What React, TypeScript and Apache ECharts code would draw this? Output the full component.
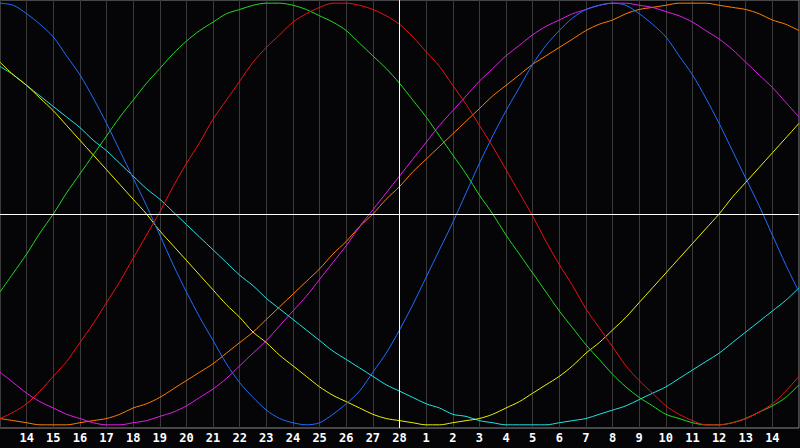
import { useEffect, useRef } from 'react';
import * as echarts from 'echarts';

// day labels under each grid line (index 0 and 30 sit on the edges, unlabeled)
const dayLabels = [
  '', '14', '15', '16', '17', '18', '19', '20', '21', '22', '23', '24', '25', '26', '27', '28',
  '1', '2', '3', '4', '5', '6', '7', '8', '9', '10', '11', '12', '13', '14', '',
];

// values every half day, -1 .. 1 (61 points from day index 0 to 30)
const physical = [
  1.0, 0.99, 0.95, 0.9, 0.84, 0.75, 0.66, 0.55, 0.43, 0.3, 0.17, 0.04, -0.1, -0.24, -0.37, -0.49,
  -0.6, -0.71, -0.8, -0.87, -0.93, -0.97, -0.99, -1.0, -0.99, -0.95, -0.9, -0.84, -0.75, -0.66, -0.55,
  -0.43, -0.3, -0.17, -0.04, 0.1, 0.24, 0.37, 0.49, 0.6, 0.71, 0.8, 0.87, 0.93, 0.97, 0.99,
  1.0, 0.99, 0.95, 0.9, 0.84, 0.75, 0.66, 0.55, 0.43, 0.3, 0.17, 0.04, -0.1, -0.24, -0.37,
];
const emotional = [
  -0.97, -0.94, -0.9, -0.84, -0.77, -0.7, -0.61, -0.52, -0.42, -0.32, -0.21, -0.1, 0.01, 0.13, 0.24, 0.34,
  0.45, 0.54, 0.63, 0.72, 0.79, 0.85, 0.91, 0.95, 0.98, 1.0, 1.0, 0.99, 0.97, 0.94, 0.9,
  0.84, 0.77, 0.7, 0.61, 0.52, 0.42, 0.32, 0.21, 0.1, -0.01, -0.13, -0.24, -0.34, -0.45, -0.54,
  -0.63, -0.72, -0.79, -0.85, -0.91, -0.95, -0.98, -1.0, -1.0, -0.99, -0.97, -0.94, -0.9, -0.84, -0.77,
];
const intellectual = [
  -0.37, -0.28, -0.19, -0.09, 0.0, 0.1, 0.19, 0.28, 0.37, 0.46, 0.54, 0.62, 0.69, 0.76, 0.82, 0.87,
  0.91, 0.95, 0.97, 0.99, 1.0, 1.0, 0.99, 0.97, 0.94, 0.91, 0.87, 0.81, 0.75, 0.69, 0.62,
  0.54, 0.46, 0.37, 0.28, 0.19, 0.09, 0.0, -0.1, -0.19, -0.28, -0.37, -0.46, -0.54, -0.62, -0.69,
  -0.76, -0.82, -0.87, -0.91, -0.95, -0.97, -0.99, -1.0, -1.0, -0.99, -0.97, -0.94, -0.91, -0.87, -0.81,
];
const intuitive = [
  -0.75, -0.8, -0.85, -0.89, -0.92, -0.95, -0.97, -0.99, -1.0, -1.0, -0.99, -0.98, -0.96, -0.94, -0.91, -0.87,
  -0.83, -0.78, -0.72, -0.66, -0.6, -0.53, -0.46, -0.39, -0.31, -0.23, -0.15, -0.06, 0.02, 0.1, 0.18,
  0.26, 0.34, 0.42, 0.49, 0.56, 0.63, 0.69, 0.75, 0.8, 0.85, 0.89, 0.92, 0.95, 0.97, 0.99,
  1.0, 1.0, 0.99, 0.98, 0.96, 0.94, 0.91, 0.87, 0.83, 0.78, 0.72, 0.66, 0.6, 0.53, 0.46,
];
const awareness = [
  -0.97, -0.98, -0.99, -1.0, -1.0, -1.0, -0.99, -0.98, -0.97, -0.95, -0.92, -0.9, -0.87, -0.83, -0.79, -0.75,
  -0.71, -0.66, -0.61, -0.56, -0.5, -0.44, -0.38, -0.32, -0.26, -0.19, -0.13, -0.06, 0.0, 0.07, 0.13,
  0.2, 0.26, 0.32, 0.38, 0.44, 0.5, 0.56, 0.61, 0.66, 0.71, 0.75, 0.79, 0.83, 0.87, 0.9,
  0.92, 0.95, 0.97, 0.98, 0.99, 1.0, 1.0, 1.0, 0.99, 0.98, 0.97, 0.95, 0.92, 0.9, 0.87,
];
const aesthetic = [
  0.72, 0.66, 0.61, 0.55, 0.49, 0.42, 0.35, 0.28, 0.21, 0.14, 0.07, 0.0, -0.08, -0.15, -0.22, -0.29,
  -0.36, -0.43, -0.49, -0.56, -0.61, -0.67, -0.72, -0.77, -0.82, -0.86, -0.89, -0.92, -0.95, -0.97, -0.98,
  -0.99, -1.0, -1.0, -0.99, -0.98, -0.97, -0.95, -0.92, -0.89, -0.85, -0.81, -0.77, -0.72, -0.66, -0.61,
  -0.55, -0.49, -0.42, -0.35, -0.28, -0.21, -0.14, -0.07, 0.0, 0.08, 0.15, 0.22, 0.29, 0.36, 0.43,
];
const spiritual = [
  0.7, 0.66, 0.61, 0.56, 0.51, 0.46, 0.41, 0.35, 0.3, 0.24, 0.18, 0.12, 0.07, 0.01, -0.05, -0.11,
  -0.17, -0.23, -0.29, -0.34, -0.4, -0.45, -0.5, -0.55, -0.6, -0.65, -0.69, -0.73, -0.77, -0.81, -0.84,
  -0.87, -0.9, -0.92, -0.95, -0.96, -0.98, -0.99, -1.0, -1.0, -1.0, -1.0, -0.99, -0.98, -0.97, -0.95,
  -0.93, -0.91, -0.88, -0.85, -0.82, -0.78, -0.74, -0.7, -0.66, -0.61, -0.56, -0.51, -0.46, -0.41, -0.35,
];

const curves = [
  { name: 'Awareness', data: awareness, color: '#ff8000' },
  { name: 'Intuitive', data: intuitive, color: '#e81ce8' },
  { name: 'Spiritual', data: spiritual, color: '#1ee6e6' },
  { name: 'Aesthetic', data: aesthetic, color: '#f0f000' },
  { name: 'Intellectual', data: intellectual, color: '#20dc20' },
  { name: 'Emotional', data: emotional, color: '#f01010' },
  { name: 'Physical', data: physical, color: '#1e6eff' },
];

const TODAY = 15;

export default function App() {
  const chartRef = useRef<HTMLDivElement>(null);

  useEffect(() => {
    if (!chartRef.current) return;
    document.body.style.margin = '0';
    document.body.style.background = '#050508';

    const chart = echarts.init(chartRef.current, null, { renderer: 'svg' });

    const series: any[] = curves.map((c) => ({
      name: c.name,
      type: 'line',
      data: c.data.map((v, i) => [i / 2, v]),
      smooth: 0.3,
      showSymbol: false,
      lineStyle: { width: 1, color: c.color },
      itemStyle: { color: c.color },
    }));

    // 今天 + 零线
    series[0].markLine = {
      silent: true,
      symbol: 'none',
      label: { show: false },
      lineStyle: { color: '#ffffff', width: 1, type: 'solid' },
      data: [{ xAxis: TODAY }, { yAxis: 0 }],
    };

    chart.setOption({
      animation: false,
      backgroundColor: '#050508',
      grid: {
        left: 0,
        right: 1,
        top: 0,
        bottom: 20,
        show: true,
        borderColor: '#8a8a8a',
        borderWidth: 1,
      },
      xAxis: {
        type: 'value',
        min: 0,
        max: 30,
        interval: 1,
        axisLine: { show: true, lineStyle: { color: '#8a8a8a' } },
        axisTick: { show: false },
        splitLine: { show: true, lineStyle: { color: '#3a3a3a', width: 1 } },
        axisLabel: {
          color: '#ffffff',
          fontFamily: 'DejaVu Sans Mono',
          fontWeight: 'bold',
          fontSize: 12,
          margin: 4,
          showMinLabel: false,
          showMaxLabel: false,
          formatter: (v: number) => dayLabels[Math.round(v)] ?? '',
        },
      },
      yAxis: {
        type: 'value',
        min: -1.015,
        max: 1.015,
        show: false,
        splitLine: { show: false },
      },
      series,
    });

    return () => {
      chart.dispose();
    };
  }, []);

  return <div ref={chartRef} style={{ width: '800px', height: '448px' }} />;
}
